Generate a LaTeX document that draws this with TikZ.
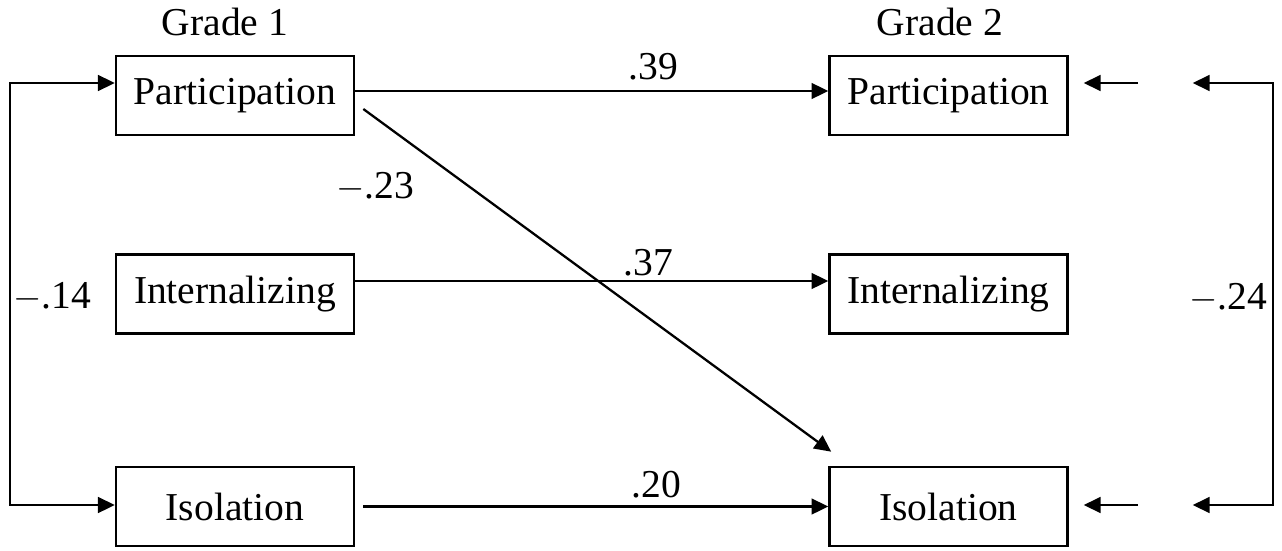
\documentclass[tikz,border=0pt]{standalone}
\usepackage{fontspec}
\setmainfont{Liberation Serif}
\usetikzlibrary{arrows.meta}

\begin{document}
\begin{tikzpicture}[
                var/.style={draw, line width=1.5pt, minimum width=4.76cm, minimum height=1.58cm, inner sep=0pt, font=\fontsize{22.5}{26}\selectfont},
                lbl/.style={font=\fontsize{22.5}{26}\selectfont},
                arr/.style={line width=1.3pt, -{Triangle[length=9.5pt,width=9pt]}},
                darr/.style={line width=1.3pt, {Triangle[length=9.5pt,width=9pt]}-{Triangle[length=9.5pt,width=9pt]}}
                ]
                \useasboundingbox (0,0) rectangle (25.64,-11);

                \node [var] (p1) at (4.70,-1.91) {Participation};
                \node [var] (n1) at (4.70,-5.88) {Internalizing};
                \node [var] (i1) at (4.70,-10.13) {Isolation};
                \node [var] (p2) at (18.97,-1.91) {Participation};
                \node [var] (n2) at (18.97,-5.88) {Internalizing};
                \node [var] (i2) at (18.97,-10.13) {Isolation};

                \node [lbl] (g1) at (4.50,-0.44) {Grade 1};
                \node [lbl] (g2) at (18.80,-0.44) {Grade 2};

                \coordinate (lt) at (0.20,-1.66);
                \coordinate (lb) at (0.20,-10.10);
                \coordinate (rt) at (25.46,-1.66);
                \coordinate (rb) at (25.46,-10.10);
                \coordinate (ep) at (22.76,-1.66);
                \coordinate (ei) at (22.76,-10.10);

                % stability paths
                \draw[arr] ([yshift=0.09cm]p1.east) -- ([yshift=0.09cm]p2.west) node[lbl, pos=0.63, above=2pt] {.39};
                \draw[arr] ([yshift=0.26cm]n1.east) -- ([yshift=0.26cm]n2.west) node[lbl, pos=0.62, above=-1pt] {.37};
                \draw[arr] ([xshift=0.16cm]i1.east) -- (i2.west) node[lbl, pos=0.63, above=1pt] {.20};
                \draw[arr] ([shift={(0.16,-0.27)}]p1.east) -- ([shift={(0.06,0.28)}]i2.north west);
                \node [lbl] (d) at (7.50,-3.74) {$-$.23};

                % correlations
                \draw[darr] (p1.west |- lt) -- (lt) -- (lb) -- (i1.west |- lb);
                \node [lbl] (c1) at (1.04,-5.94) {$-$.14};
                \draw[darr] ([xshift=2.48cm]p2.east |- rt) -- (rt) -- (rb) -- ([xshift=2.48cm]i2.east |- rb);
                \node [lbl] (c2) at (24.56,-5.96) {$-$.24};
                \draw[arr] (ep) -- ([xshift=0.3cm]p2.east |- ep);
                \draw[arr] (ei) -- ([xshift=0.3cm]i2.east |- ei);

                \end{tikzpicture}
\end{document}
